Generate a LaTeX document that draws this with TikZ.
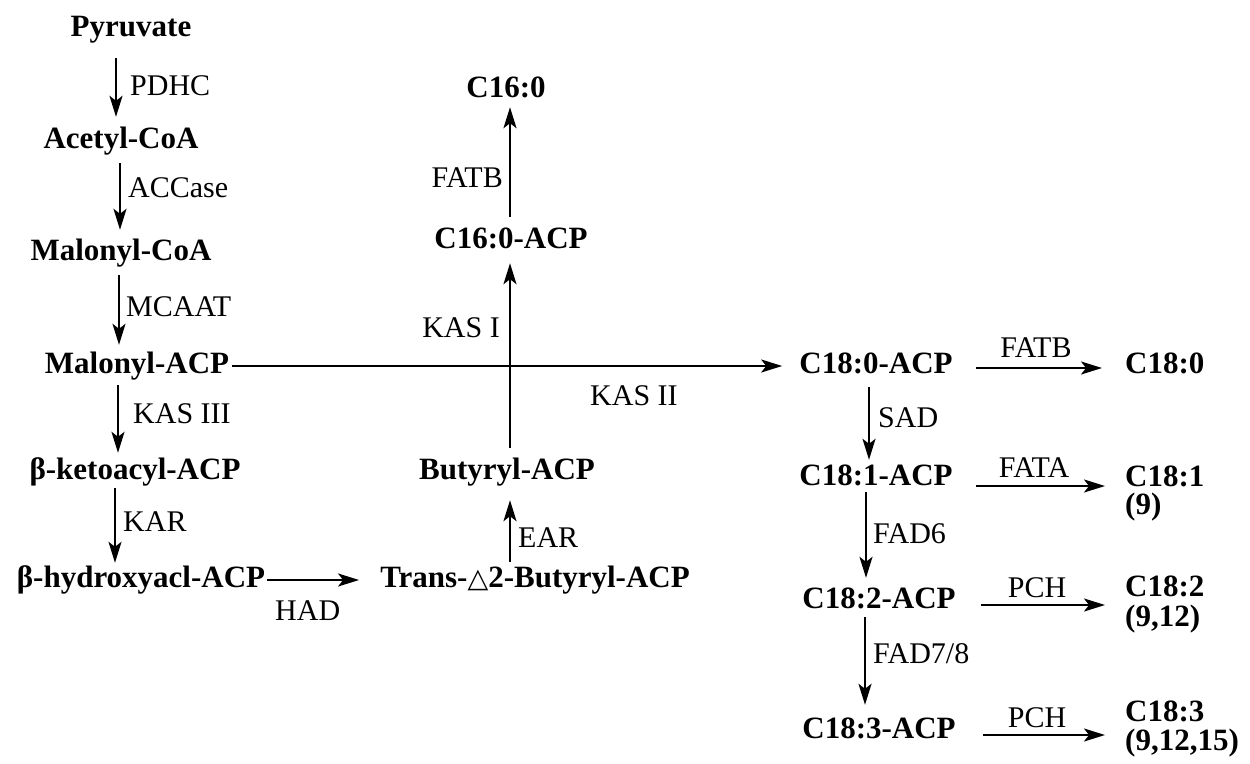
\documentclass[tikz,border=0pt]{standalone}
\usepackage{fontspec}
\setmainfont{Liberation Serif}
\newfontfamily\dejavu{DejaVu Sans}
\usetikzlibrary{arrows.meta}
\tikzset{
  cmp/.style={font=\bfseries\fontsize{31}{31}\selectfont, inner sep=0pt, text height=21pt, text depth=7pt, anchor=base},
  prod/.style={font=\bfseries\fontsize{31}{31}\selectfont, inner sep=0pt, anchor=base west},
  prodb/.style={prod, text height=16pt, text depth=5pt},
  enz/.style={font=\fontsize{30}{30}\selectfont, inner sep=0pt},
  arr/.style={line width=2pt, -{Stealth[length=21pt,width=13pt,inset=5pt]}}
}
\begin{document}
\begin{tikzpicture}[x=1pt,y=-1pt]
\useasboundingbox (0,0) rectangle (1250,763);
% compounds
\node[cmp] (pyr) at (131,36) {Pyruvate};
\node[cmp] (acetyl) at (121,148) {Acetyl-CoA};
\node[cmp] (malcoa) at (121,260) {Malonyl-CoA};
\node[cmp] (malacp) at (137,373) {Malonyl-ACP};
\node[cmp] (keto) at (135,479) {β-ketoacyl-ACP};
\node[cmp] (hydroxy) at (141,587) {β-hydroxyacl-ACP};
\node[cmp] (trans) at (535,587) {Trans-{\fontsize{27}{27}\dejavu △}2-Butyryl-ACP};
\node[cmp] (butyryl) at (507,479) {Butyryl-ACP};
\node[cmp] (c16acp) at (511,248) {C16:0-ACP};
\node[cmp] (c16) at (506,97) {C16:0};
\node[cmp] (c180acp) at (876,373) {C18:0-ACP};
\node[cmp] (c181acp) at (876,485) {C18:1-ACP};
\node[cmp] (c182acp) at (879,608) {C18:2-ACP};
\node[cmp] (c183acp) at (879,738) {C18:3-ACP};
\node[prod] (c180) at (1125,373) {C18:0};
\node[prod] (c181) at (1125,486) {C18:1};
\node[prodb] (c181b) at (1125,514) {(9)};
\node[prod] (c182) at (1125,596) {C18:2};
\node[prodb] (c182b) at (1125,626) {(9,12)};
\node[prod] (c183) at (1125,721) {C18:3};
\node[prodb] (c183b) at (1125,750) {(9,12,15)};
% vertical arrows
\draw[arr,shorten <=15pt,shorten >=10pt] ([xshift=-15pt]pyr.south) -- ([xshift=-5pt]acetyl.north);
\draw[arr,shorten <=8pt,shorten >=9pt] ([xshift=-1pt]acetyl.south) -- ([xshift=-1pt]malcoa.north);
\draw[arr,shorten <=8pt,shorten >=7pt] ([xshift=-2pt]malcoa.south) -- ([xshift=-18pt]malacp.north);
\draw[arr,shorten <=5pt,shorten >=5pt] ([xshift=-19pt]malacp.south) -- ([xshift=-17pt]keto.north);
\draw[arr,shorten <=2pt,shorten >=3pt] ([xshift=-20pt]keto.south) -- ([xshift=-26pt]hydroxy.north);
\draw[arr,shorten <=4pt,shorten >=14pt] ([xshift=-25pt]trans.north) -- ([xshift=3pt]butyryl.south);
\draw[arr,shorten <=10pt,shorten >=8pt] ([xshift=3pt]butyryl.north) -- ([xshift=-1pt]c16acp.south);
\draw[arr,shorten <=10pt,shorten >=3pt] ([xshift=-1pt]c16acp.north) -- ([xshift=4pt]c16.south);
\draw[arr,shorten <=7pt,shorten >=4pt] ([xshift=-7pt]c180acp.south) -- ([xshift=-7pt]c181acp.north);
\draw[arr,shorten <=0pt,shorten >=9pt] ([xshift=-10pt]c181acp.south) -- ([xshift=-13pt]c182acp.north);
\draw[arr,shorten <=2pt,shorten >=12pt] ([xshift=-14pt]c182acp.south) -- ([xshift=-14pt]c183acp.north);
% horizontal arrows
\draw[arr,shorten <=3pt,shorten >=17pt] (malacp.east) -- (c180acp.west);
\draw[arr,shorten <=2pt,shorten >=21pt] (hydroxy.east) -- (trans.west);
\draw[arr,shorten <=23pt,shorten >=23pt] ([yshift=-2pt]c180acp.east) -- ([yshift=-2pt]c180acp.east -| c180.west);
\draw[arr,shorten <=23pt,shorten >=20pt] ([yshift=-8pt]c181acp.east) -- ([yshift=-8pt]c181acp.east -| c181.west);
\draw[arr,shorten <=25pt,shorten >=20pt] ([yshift=-4pt]c182acp.east) -- ([yshift=-4pt]c182acp.east -| c182.west);
\draw[arr,shorten <=27pt,shorten >=20pt] ([yshift=-4pt]c183acp.east) -- ([yshift=-4pt]c183acp.east -| c183.west);
% enzyme labels
\node[enz,anchor=base west] (lpdhc) at (130,95) {PDHC};
\node[enz,anchor=base west] (laccase) at (128,197) {ACCase};
\node[enz,anchor=base west] (lmcaat) at (126,316) {MCAAT};
\node[enz,anchor=base west] (lkas3) at (133,423) {KAS III};
\node[enz,anchor=base west] (lkar) at (123,531) {KAR};
\node[enz,anchor=base west] (lhad) at (275,620) {HAD};
\node[enz,anchor=base west] (lear) at (518,547) {EAR};
\node[enz,anchor=base east] (lkas1) at (500,337) {KAS I};
\node[enz,anchor=base east] (lfatb1) at (503,187) {FATB};
\node[enz,anchor=base west] (lkas2) at (590,405) {KAS II};
\node[enz,anchor=base] (lfatb2) at (1036,357) {FATB};
\node[enz,anchor=base] (lfata) at (1034,477) {FATA};
\node[enz,anchor=base] (lpch1) at (1037,597) {PCH};
\node[enz,anchor=base] (lpch2) at (1037,727) {PCH};
\node[enz,anchor=base west] (lsad) at (878,427) {SAD};
\node[enz,anchor=base west] (lfad6) at (873,543) {FAD6};
\node[enz,anchor=base west] (lfad78) at (873,663) {FAD7/8};
\end{tikzpicture}
\end{document}
